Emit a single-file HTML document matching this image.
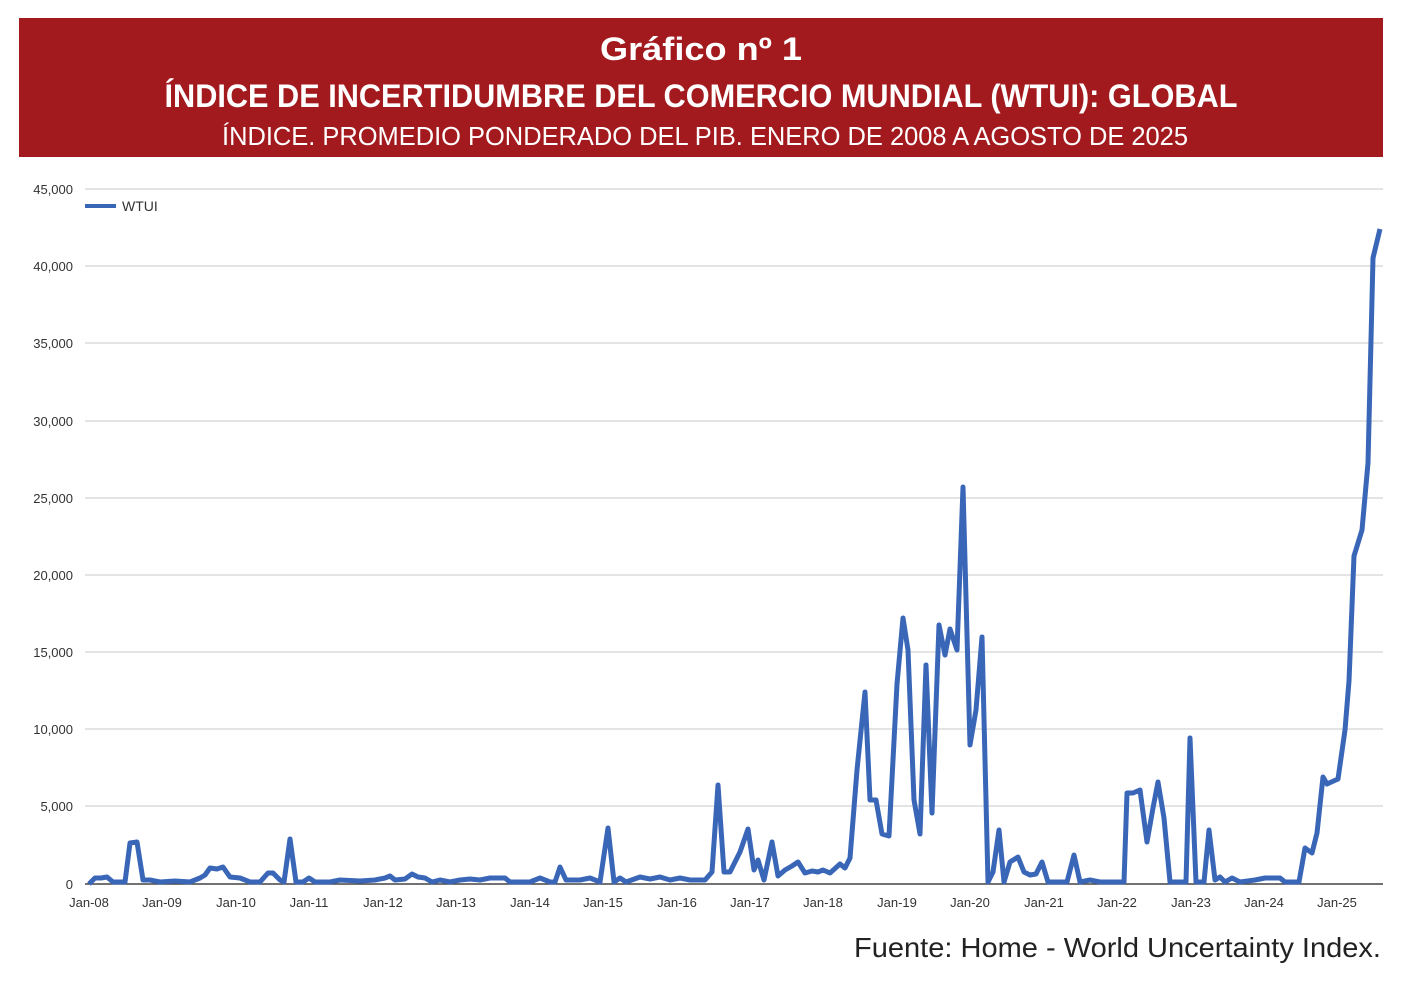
<!DOCTYPE html>
<html><head><meta charset="utf-8"><style>
html,body{margin:0;padding:0;background:#fff;}
svg{display:block;}
</style></head><body>
<svg width="1424" height="981" viewBox="0 0 1424 981" xmlns="http://www.w3.org/2000/svg">
<rect x="0" y="0" width="1424" height="981" fill="#fff"/>
<rect x="19" y="18" width="1364" height="139" fill="#a31a1e"/>
<g fill="#fff" text-anchor="middle" font-family="'Liberation Sans Narrow','Liberation Sans',sans-serif" font-weight="bold">
<text x="701" y="60" font-size="32" textLength="202" lengthAdjust="spacingAndGlyphs">Gráfico nº 1</text>
<text x="701" y="107" font-size="32" textLength="1073" lengthAdjust="spacingAndGlyphs">ÍNDICE DE INCERTIDUMBRE DEL COMERCIO MUNDIAL (WTUI): GLOBAL</text>
<text x="705" y="145" font-size="26" font-weight="normal" textLength="966" lengthAdjust="spacingAndGlyphs">ÍNDICE. PROMEDIO PONDERADO DEL PIB. ENERO DE 2008 A AGOSTO DE 2025</text>
</g>
<g stroke="#dcdcdc" stroke-width="1.5">
<line x1="85" x2="1383" y1="189" y2="189"/>
<line x1="85" x2="1383" y1="266" y2="266"/>
<line x1="85" x2="1383" y1="343" y2="343"/>
<line x1="85" x2="1383" y1="421" y2="421"/>
<line x1="85" x2="1383" y1="498" y2="498"/>
<line x1="85" x2="1383" y1="575" y2="575"/>
<line x1="85" x2="1383" y1="652" y2="652"/>
<line x1="85" x2="1383" y1="729" y2="729"/>
<line x1="85" x2="1383" y1="806" y2="806"/>
</g>
<line x1="85" x2="1383" y1="884" y2="884" stroke="#444" stroke-width="1.5"/>
<g font-family="'Liberation Sans',sans-serif" font-size="13" fill="#333" text-anchor="end">
<text x="73" y="194">45,000</text><text x="73" y="271">40,000</text><text x="73" y="348">35,000</text>
<text x="73" y="426">30,000</text><text x="73" y="503">25,000</text><text x="73" y="580">20,000</text>
<text x="73" y="657">15,000</text><text x="73" y="734">10,000</text><text x="73" y="811">5,000</text>
<text x="73" y="889">0</text>
</g>
<g font-family="'Liberation Sans',sans-serif" font-size="13" fill="#333" text-anchor="middle">
<text x="89" y="907">Jan-08</text><text x="162" y="907">Jan-09</text><text x="236" y="907">Jan-10</text>
<text x="309" y="907">Jan-11</text><text x="383" y="907">Jan-12</text><text x="456" y="907">Jan-13</text>
<text x="530" y="907">Jan-14</text><text x="603" y="907">Jan-15</text><text x="677" y="907">Jan-16</text>
<text x="750" y="907">Jan-17</text><text x="823" y="907">Jan-18</text><text x="897" y="907">Jan-19</text>
<text x="970" y="907">Jan-20</text><text x="1044" y="907">Jan-21</text><text x="1117" y="907">Jan-22</text>
<text x="1191" y="907">Jan-23</text><text x="1264" y="907">Jan-24</text><text x="1337" y="907">Jan-25</text>
</g>
<line x1="85" x2="116" y1="206" y2="206" stroke="#3a66b8" stroke-width="4"/>
<text x="122" y="211" font-family="'Liberation Sans',sans-serif" font-size="14" fill="#333">WTUI</text>
<polyline fill="none" stroke="#3a66b8" stroke-width="5" stroke-linejoin="round" points="
89,884 95,878 101,878 107,877 113,882 120,882 125,882 130,843 137,842 143,880 150,880 160,882 175,881 190,882 200,878 205,875 210,868 217,869 223,867 230,877 240,878 250,882 260,882 268,873 273,873 280,880 284,882 290,839 296,882 303,882 309,878 315,882 330,882 340,880 360,881 375,880 385,878 390,876 395,880 405,879 412,874 418,877 425,878 432,882 440,880 450,882 460,880 470,879 480,880 490,878 505,878 510,882 530,882 540,878 550,882 555,882 560,867 566,880 580,880 590,878 600,882 608,828 614,882 620,878 626,882 640,877 650,879 660,877 670,880 680,878 690,880 705,880 712,872 718,785 724,872 730,872 740,852 748,829 754,870 758,860 764,880 772,842 778,876 785,870 792,866 798,862 805,873 812,871 818,872 823,870 830,873 840,864 845,868 850,858 857,770 865,692 870,800 876,800 882,834 889,836 897,684 903,618 908,650 914,800 920,834 926,665 932,813 939,625 945,655 950,629 957,650 963,487 970,745 976,710 982,637 988,882 993,872 999,830 1004,882 1010,862 1018,857 1024,872 1030,875 1036,874 1042,862 1048,882 1055,882 1067,882 1074,855 1080,882 1090,880 1100,882 1124,882 1127,793 1133,793 1140,790 1147,842 1153,808 1158,782 1164,818 1170,882 1178,882 1186,882 1190,738 1196,882 1204,882 1209,830 1215,880 1220,877 1225,882 1232,878 1240,882 1255,880 1265,878 1280,878 1285,882 1299,882 1305,848 1312,853 1317,833 1323,777 1327,784 1338,779 1345,730 1349,681 1354,556 1362,530 1368,463 1373,258 1380,229"/>
<text x="1381" y="957" text-anchor="end" font-family="'Liberation Sans Narrow','Liberation Sans',sans-serif" font-size="28" fill="#222" textLength="527" lengthAdjust="spacingAndGlyphs">Fuente: Home - World Uncertainty Index.</text>
</svg>
</body></html>
